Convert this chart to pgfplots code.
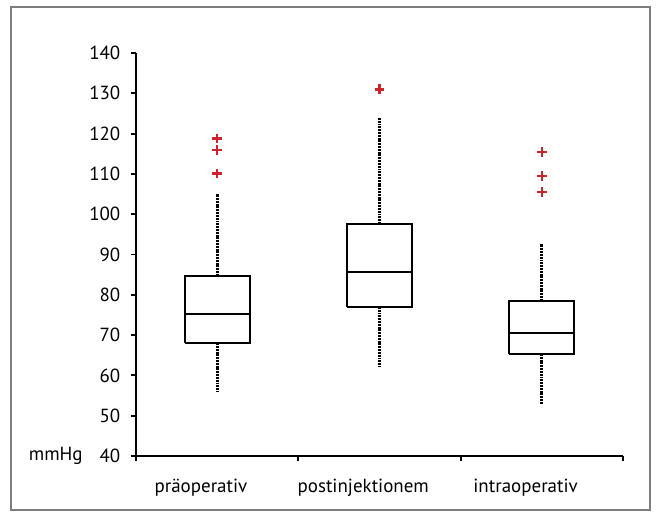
\documentclass[border=0pt]{standalone}
\usepackage{fontspec}
\setmainfont{PT Sans}
\usepackage{pgfplots}
\pgfplotsset{compat=1.18}
\definecolor{outred}{RGB}{205,35,45}
\definecolor{framegray}{RGB}{125,125,125}

\pgfplotsset{
    boxline/.style={black, line width=1.1pt, line join=miter},
    whisk/.style={black, line width=1.7pt, dash pattern=on 1.1pt off 0.5pt},
    outl/.style={only marks, mark=+, mark size=2.8pt,
        mark options={outred, solid, line width=1.4pt}},
}

\begin{document}
\begin{tikzpicture}
% whole picture 659x516 px, 1 px = 0.02cm, axis origin at px (136,456)
\path[use as bounding box] (-2.72,-1.2) rectangle (10.46,9.12);
\draw[framegray, line width=0.8pt] (-2.5,-1.08) rectangle (10.28,8.98);

\begin{axis}[
    at={(0,0)}, anchor=south west,
    scale only axis,
    width=9.74cm, height=8.06cm,
    xmin=0, xmax=3,
    ymin=40, ymax=140,
    axis x line=bottom, axis y line=left,
    axis line style={-, line width=1.1pt},
    tick align=outside,
    major tick length=0.09cm,
    tick style={black, line width=1.1pt},
    xtick={0,1,2,3},
    xticklabels={},
    extra x ticks={0.4,1.4,2.4},
    extra x tick labels={präoperativ,postinjektionem,intraoperativ},
    extra x tick style={major tick length=0pt, tick style={draw=none}},
    xticklabel style={yshift=-0.33cm},
    ytick={40,50,...,140},
    yticklabel style={xshift=-0.1cm},
    /pgf/number format/assume math mode=true,
    tick label style={font=\fontsize{10.8}{13}\selectfont},
    clip=false,
]

% präoperativ
\addplot[whisk] coordinates {(0.5,84.7) (0.5,105.0)};
\addplot[whisk] coordinates {(0.5,68.0) (0.5,55.9)};
\addplot[boxline] coordinates {(0.3,68.0) (0.7,68.0) (0.7,84.7) (0.3,84.7) (0.3,68.0)};
\addplot[boxline] coordinates {(0.3,75.2) (0.7,75.2)};
\addplot[outl] coordinates {(0.5,118.8) (0.5,115.9) (0.5,110.1)};

% postinjektionem
\addplot[whisk] coordinates {(1.5,97.6) (1.5,123.9)};
\addplot[whisk] coordinates {(1.5,77.0) (1.5,62.0)};
\addplot[boxline] coordinates {(1.3,77.0) (1.7,77.0) (1.7,97.6) (1.3,97.6) (1.3,77.0)};
\addplot[boxline] coordinates {(1.3,85.7) (1.7,85.7)};
\addplot[outl] coordinates {(1.5,131.0)};

% intraoperativ
\addplot[whisk] coordinates {(2.5,78.5) (2.5,92.6)};
\addplot[whisk] coordinates {(2.5,65.3) (2.5,53.0)};
\addplot[boxline] coordinates {(2.3,65.3) (2.7,65.3) (2.7,78.5) (2.3,78.5) (2.3,65.3)};
\addplot[boxline] coordinates {(2.3,70.5) (2.7,70.5)};
\addplot[outl] coordinates {(2.5,115.4) (2.5,109.5) (2.5,105.5)};

\node[anchor=east, inner sep=0pt, font=\fontsize{10.8}{13}\selectfont]
    at (axis cs:0,40) [xshift=-1.06cm] {mmHg};
\end{axis}
\end{tikzpicture}
\end{document}
